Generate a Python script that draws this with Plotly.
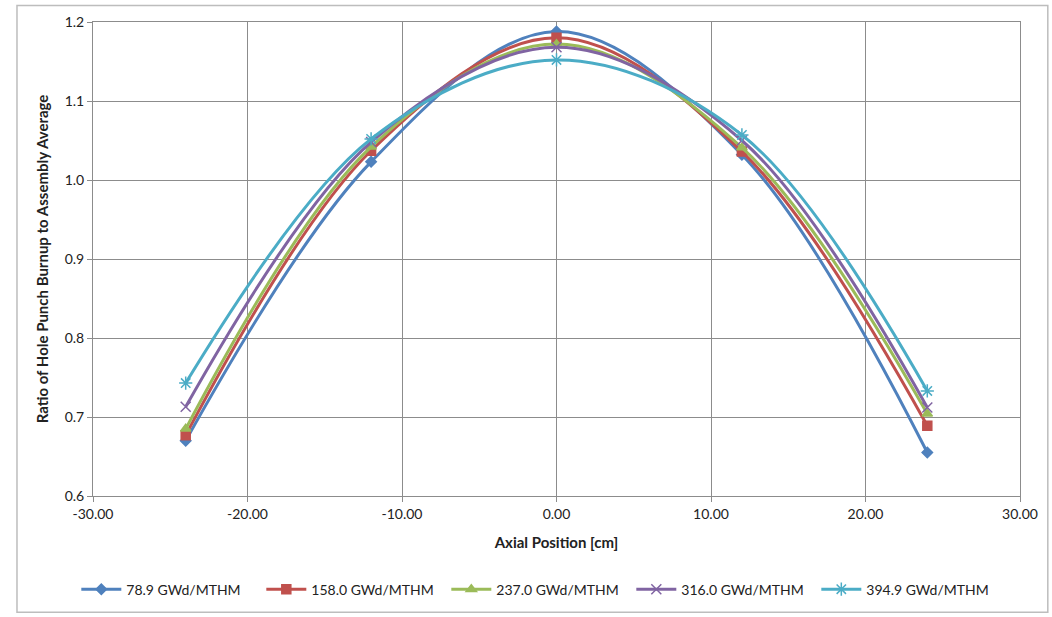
import plotly.graph_objects as go

# Axial measurement positions (cm)
positions = [-24.0, -12.0, 0.0, 12.0, 24.0]

# Ratio of hole-punch burnup to assembly average, per assembly burnup
series_names = [
    "78.9 GWd/MTHM",
    "158.0 GWd/MTHM",
    "237.0 GWd/MTHM",
    "316.0 GWd/MTHM",
    "394.9 GWd/MTHM",
]
ratio_78_9 = [0.670, 1.023, 1.188, 1.032, 0.655]
ratio_158_0 = [0.677, 1.037, 1.180, 1.036, 0.689]
ratio_237_0 = [0.685, 1.042, 1.172, 1.041, 0.704]
ratio_316_0 = [0.713, 1.048, 1.168, 1.050, 0.712]
ratio_394_9 = [0.743, 1.052, 1.152, 1.057, 0.733]
series_values = [ratio_78_9, ratio_158_0, ratio_237_0, ratio_316_0, ratio_394_9]

colors = ["#4F81BD", "#C0504D", "#9BBB59", "#8064A2", "#4BACC6"]
symbols = ["diamond", "square", "triangle-up", "x-thin-open", "asterisk-open"]
marker_sizes = [8, 9, 9, 10, 11]

x_ticks = [-30, -20, -10, 0, 10, 20, 30]
x_tick_text = ["-30.00", "-20.00", "-10.00", "0.00", "10.00", "20.00", "30.00"]
y_ticks = [0.6, 0.7, 0.8, 0.9, 1.0, 1.1, 1.2]
y_tick_text = ["0.6", "0.7", "0.8", "0.9", "1.0", "1.1", "1.2"]

font_family = "Lato, 'Open Sans', sans-serif"

fig = go.Figure()
for name, vals, col, sym, ms in zip(series_names, series_values, colors, symbols, marker_sizes):
    fig.add_trace(go.Scatter(
        x=positions,
        y=vals,
        name=name,
        mode="lines+markers",
        line=dict(color=col, width=3, shape="spline", smoothing=1.0),
        marker=dict(symbol=sym, size=ms, color=col,
                    line=dict(color=col, width=1.5)),
    ))

axis_common = dict(
    showgrid=True,
    gridcolor="#8C8C8C",
    gridwidth=1,
    showline=True,
    linecolor="#8C8C8C",
    linewidth=1,
    mirror=True,
    zeroline=False,
    ticks="outside",
    ticklen=5,
    tickcolor="#8C8C8C",
    tickfont=dict(family=font_family, size=14, color="#222222"),
)

fig.update_layout(
    width=1052,
    height=617,
    paper_bgcolor="white",
    plot_bgcolor="white",
    margin=dict(l=93, r=32, t=22, b=120),
    font=dict(family=font_family, size=14, color="#222222"),
    xaxis=dict(
        **axis_common,
        range=[-30, 30],
        tickvals=x_ticks,
        ticktext=x_tick_text,
        title=dict(text="<b>Axial Position [cm]</b>",
                   font=dict(family=font_family, size=15, color="#222222"),
                   standoff=16),
    ),
    yaxis=dict(
        **axis_common,
        range=[0.6, 1.2],
        tickvals=y_ticks,
        ticktext=y_tick_text,
        title=dict(text="<b>Ratio of Hole Punch Burnup to Assembly Average</b>",
                   font=dict(family=font_family, size=15, color="#222222"),
                   standoff=12),
    ),
    legend=dict(
        orientation="h",
        x=-0.018,
        xanchor="left",
        y=-0.195,
        yanchor="middle",
        font=dict(family=font_family, size=14, color="#222222"),
        itemwidth=40,
        entrywidth=130,
        entrywidthmode="pixels",
        tracegroupgap=0,
    ),
    shapes=[
        dict(type="rect", xref="paper", yref="paper",
             x0=-0.082, x1=1.03, y0=-0.245, y1=1.035,
             line=dict(color="#BDBDBD", width=1.5), fillcolor="rgba(0,0,0,0)",
             layer="below"),
    ],
)

fig.write_html("out.html")
